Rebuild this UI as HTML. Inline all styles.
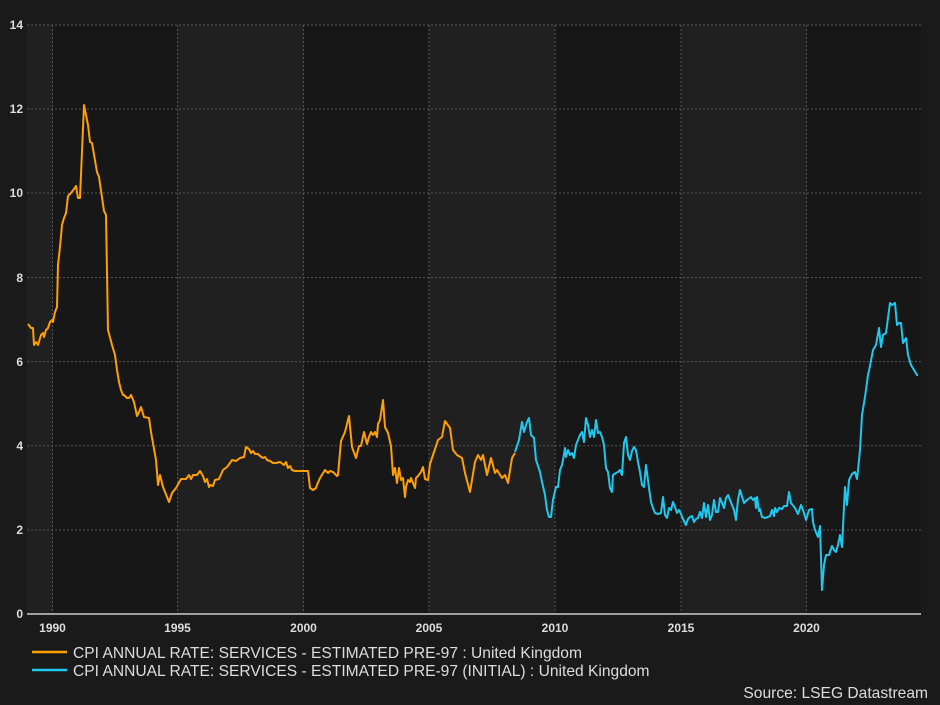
<!DOCTYPE html>
<html><head><meta charset="utf-8"><style>
html,body{margin:0;padding:0;background:#1a1a1a;}
svg{display:block;font-family:"Liberation Sans",Arial,sans-serif;}
</style></head><body>
<svg width="940" height="705" viewBox="0 0 940 705" xmlns="http://www.w3.org/2000/svg">
<rect width="940" height="705" fill="#1a1a1a"/>
<rect x="27" y="25" width="25.5" height="589" fill="#202020"/>
<rect x="52.5" y="25" width="125" height="589" fill="#171717"/>
<rect x="177.5" y="25" width="126" height="589" fill="#202020"/>
<rect x="303.5" y="25" width="125.5" height="589" fill="#171717"/>
<rect x="429" y="25" width="126" height="589" fill="#202020"/>
<rect x="555" y="25" width="126" height="589" fill="#171717"/>
<rect x="681" y="25" width="125.5" height="589" fill="#202020"/>
<rect x="806.5" y="25" width="114.5" height="589" fill="#171717"/>
<g stroke="#555" stroke-width="1" stroke-dasharray="2,2">
<line x1="27" x2="921" y1="25" y2="25"/><line x1="27" x2="921" y1="109" y2="109"/>
<line x1="27" x2="921" y1="193" y2="193"/><line x1="27" x2="921" y1="277.5" y2="277.5"/>
<line x1="27" x2="921" y1="361.6" y2="361.6"/><line x1="27" x2="921" y1="445.7" y2="445.7"/>
<line x1="27" x2="921" y1="530" y2="530"/>
<line x1="52.5" x2="52.5" y1="25" y2="614"/><line x1="177.5" x2="177.5" y1="25" y2="614"/>
<line x1="303.5" x2="303.5" y1="25" y2="614"/><line x1="429" x2="429" y1="25" y2="614"/>
<line x1="555" x2="555" y1="25" y2="614"/><line x1="681" x2="681" y1="25" y2="614"/>
<line x1="806.5" x2="806.5" y1="25" y2="614"/>
</g>
<line x1="27" x2="921" y1="614" y2="614" stroke="#ccc" stroke-width="1.5"/>
<g fill="#ddd" font-size="12" font-weight="bold" text-anchor="end">
<text x="23" y="29">14</text><text x="23" y="113">12</text><text x="23" y="197">10</text>
<text x="23" y="282">8</text><text x="23" y="366">6</text><text x="23" y="450">4</text>
<text x="23" y="534">2</text><text x="23" y="618">0</text>
</g>
<g fill="#ddd" font-size="12" font-weight="bold" text-anchor="middle">
<text x="52.5" y="632">1990</text><text x="177.5" y="632">1995</text><text x="303.5" y="632">2000</text>
<text x="429" y="632">2005</text><text x="555" y="632">2010</text><text x="681" y="632">2015</text>
<text x="806.5" y="632">2020</text>
</g>
<polyline fill="none" stroke="#ff9f00" stroke-width="2" stroke-linejoin="round" points="28,324 31,328 33,328 34,345 36,342 38,345 41,335 43,333 44,337 46,330 48,328 50,322 52,320 53,322 55,312 57,307 58,265 60,247 62,225 64,218 66,213 68,196 71,193 74,189 76,186 78,198 80,198 84,105 86,115 88,125 90,142 92,143 97,172 99,177 104,211 106,215 108,330 112,345 115,355 117,370 119,382 121,390 123,395 124,395 127,398 129,398 131,395 134,402 137,416 139,412 141,407 144,417 149,418 151,432 156,460 158,485 160,475 163,487 167,497 169,502 172,493 176,488 181,479 186,479 189,475 191,479 193,475 197,475 200,471 203,476 205,482 207,479 209,487 210,485 213,486 215,480 219,479 223,470 227,467 230,463 232,460 236,461 240,458 244,457 246,447 249,449 251,453 253,451 255,454 258,454 260,456 263,458 265,457 267,460 270,461 273,463 276,463 280,462 284,465 286,462 288,468 290,466 292,470 295,471 300,471 304,471 308,471 310,488 313,490 316,488 317,485 320,478 325,470 328,473 330,471 333,472 335,474 337,476 338,475 341,441 345,432 349,416 352,447 356,458 359,446 361,446 364,432 367,444 369,437 371,432 373,435 375,432 377,437 378,424 380,420 383,400 385,427 388,433 391,446 393,475 395,468 397,483 399,468 401,480 403,478 405,497 406,487 408,480 410,482 411,478 413,483 415,488 416,478 418,476 421,472 423,467 425,479 428,480 430,464 433,455 438,440 442,437 445,421 450,428 453,450 457,455 462,458 465,473 470,492 475,462 478,455 481,460 483,455 487,475 491,458 495,473 497,470 502,478 505,475 508,483 512,458 515,453"/>
<polyline fill="none" stroke="#1ec8ee" stroke-width="2" stroke-linejoin="round" points="515,452 519,440 522,422 524,432 527,422 529,418 531,435 534,438 536,460 540,472 542,482 545,495 547,510 549,517 551,517 553,500 556,487 558,487 560,470 562,465 563,460 565,448 566,457 568,450 570,455 572,453 574,458 576,445 580,435 582,432 584,442 586,418 588,425 590,437 592,430 594,437 596,420 598,433 600,432 602,437 604,445 606,468 608,472 610,488 612,492 613,475 616,473 618,472 620,470 622,475 624,443 626,437 628,455 630,460 632,451 634,447 636,450 638,462 640,472 642,485 644,487 646,465 649,488 651,502 653,508 655,513 658,514 661,513 663,497 665,515 667,518 669,508 671,510 673,502 675,507 677,513 679,510 681,514 683,519 686,525 688,519 690,517 692,516 694,522 696,519 698,518 700,512 702,518 704,503 706,517 708,505 710,520 712,515 714,500 716,512 718,512 720,498 722,503 724,508 726,498 728,495 730,500 732,505 734,510 736,520 738,500 740,490 744,503 747,500 751,497 753,500 755,498 756,508 757,497 759,511 760,509 762,517 765,518 768,517 770,516 772,510 774,516 775,508 777,512 779,508 782,509 784,506 787,506 789,492 791,503 795,508 798,514 801,505 803,510 806,520 809,510 812,509 813,522 815,530 818,537 820,526 822,590 824,565 826,555 829,555 832,546 834,550 836,552 838,545 840,535 842,547 845,487 847,505 849,480 852,474 855,472 857,479 858,470 860,450 862,415 865,397 868,375 870,366 873,350 876,345 879,328 881,347 883,335 886,333 888,318 890,303 892,305 895,303 897,325 899,323 901,323 903,343 906,338 908,355 911,365 914,370 917,375 918,375"/>
<line x1="32" x2="67" y1="652" y2="652" stroke="#ff9f00" stroke-width="2.5"/>
<line x1="32" x2="67" y1="670" y2="670" stroke="#1ec8ee" stroke-width="2.5"/>
<g fill="#ddd" font-size="15.6">
<text x="73" y="658">CPI ANNUAL RATE: SERVICES - ESTIMATED PRE-97 : United Kingdom</text>
<text x="73" y="676">CPI ANNUAL RATE: SERVICES - ESTIMATED PRE-97 (INITIAL) : United Kingdom</text>
<text x="928" y="698" text-anchor="end">Source: LSEG Datastream</text>
</g>
</svg>
</body></html>
